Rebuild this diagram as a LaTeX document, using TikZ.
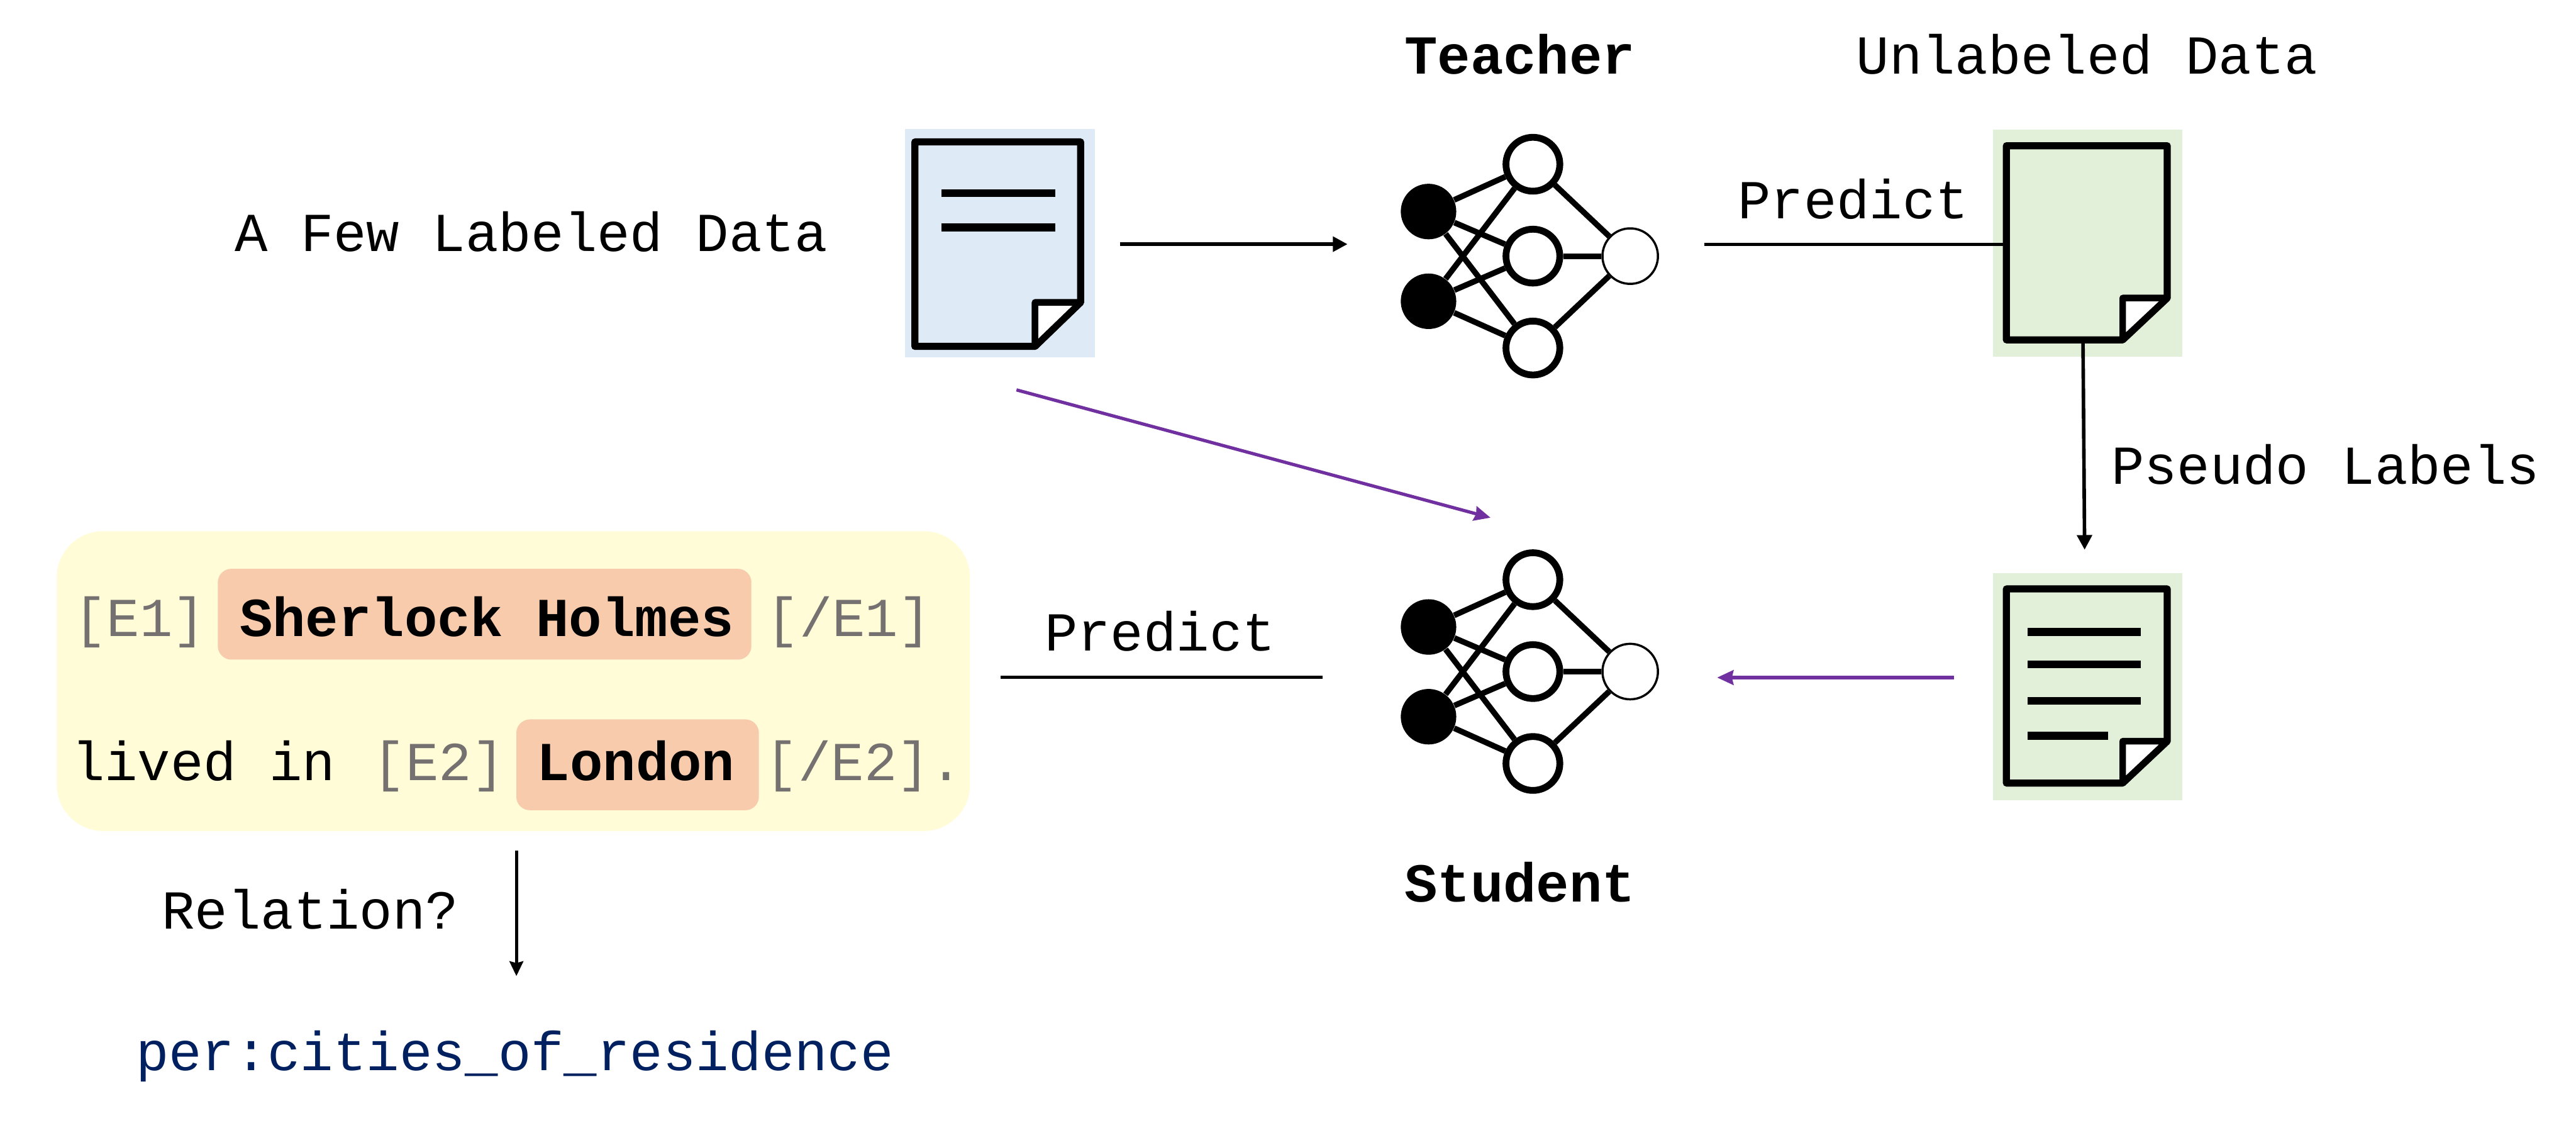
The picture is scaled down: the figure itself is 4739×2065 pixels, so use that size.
\documentclass[tikz,border=0pt]{standalone}
\usepackage{fontspec}
\setmainfont{Liberation Mono}
\usetikzlibrary{arrows.meta}
\definecolor{bluebg}{HTML}{DEEAF6}
\definecolor{greenbg}{HTML}{E2EFD9}
\definecolor{yellowbg}{HTML}{FFFCD7}
\definecolor{orangebg}{HTML}{F7CBAC}
\definecolor{tagcol}{HTML}{767171}
\definecolor{navy}{HTML}{002060}
\definecolor{purp}{HTML}{7030A0}
\tikzset{
  x=0.01cm,y=-0.01cm,
  txt/.style={anchor=base west,inner sep=0pt,outer sep=0pt,font=\fontsize{28.72}{34}\selectfont},
  ctxt/.style={anchor=base,inner sep=0pt,outer sep=0pt,font=\fontsize{28.72}{34}\selectfont\bfseries},
  bgbox/.style={draw=none,inner sep=0pt,outer sep=0pt},
  sheet/.style={draw=black,line width=0.13cm,line join=round},
  fold/.style={draw=black,fill=white,line width=0.12cm,line join=round},
  bar/.style={draw=black,line width=0.145cm},
  inblack/.style={circle,fill=black,draw=none,minimum size=1.02cm,inner sep=0pt},
  hid/.style={circle,draw=black,fill=white,line width=0.125cm,minimum size=0.99cm,inner sep=0pt},
  outp/.style={circle,draw=black,fill=white,line width=0.04cm,minimum size=1.02cm,inner sep=0pt},
  edge/.style={draw=black,line width=0.105cm},
  arr/.style={draw=black,line width=0.065cm,-{Triangle[length=0.27cm,width=0.27cm]}},
  parr/.style={draw=purp,line width=0.06cm,-{Stealth[length=0.3cm,width=0.27cm,inset=0.03cm]}},
  plain/.style={draw=black,line width=0.06cm},
  entity/.style={fill=orangebg,draw=none,rounded corners=0.25cm},
}
\newcommand{\docsheet}[6]{% x1 y1 x2 y2 foldx foldy
  \path[sheet] (#1,#2) -- (#3,#2) -- (#3,#6) -- (#5,#4) -- (#1,#4) -- cycle;
  \path[fold] (#5,#4) -- (#5,#6) -- (#3,#6) -- cycle;
}
\newcommand{\netw}[2]{% prefix, y of centre
  \node[inblack] (#1a) at (2628,#2-82) {};
  \node[inblack] (#1b) at (2628,#2+83) {};
  \node[hid] (#1c) at (2820,#2-169) {};
  \node[hid] (#1d) at (2820,#2) {};
  \node[hid] (#1e) at (2820,#2+169) {};
  \node[outp] (#1f) at (2999,#2) {};
  \foreach \s in {a,b}{\foreach \t in {c,d,e}{\path[edge] (#1\s) -- (#1\t);}}
  \foreach \s in {c,d,e}{\path[edge] (#1\s) -- (#1f);}
}
\begin{document}
\begin{tikzpicture}
\useasboundingbox (0,0) rectangle (4739,2065);
% labels
\node[ctxt] (teacher) at (2796,136) {Teacher};
\node[txt] (unl) at (3415,136) {Unlabeled Data};
\node[txt] (few) at (432,462) {A Few Labeled Data};
\node[txt] (pred1) at (3197,402) {Predict};
\node[txt] (pseudo) at (3884,890) {Pseudo Labels};
\node[txt] (pred2) at (1922,1197) {Predict};
\node[ctxt] (student) at (2796,1659) {Student};
% documents
\node[bgbox,fill=bluebg,minimum width=3.49cm,minimum height=4.19cm] (blue) at (1839.5,447) {};
\node[bgbox,fill=greenbg,minimum width=3.49cm,minimum height=4.17cm] (green1) at (3840.5,447.5) {};
\node[bgbox,fill=greenbg,minimum width=3.49cm,minimum height=4.17cm] (green2) at (3840.5,1262.5) {};
\docsheet{1683}{261}{1988}{637}{1904}{556}
\path[bar] (1732,355) -- (1941,355) (1732,418) -- (1941,418);
\docsheet{3691}{268}{3987}{625}{3905}{548}
\docsheet{3691}{1083}{3987}{1440}{3905}{1363}
\path[bar] (3730,1162) -- (3938,1162) (3730,1222) -- (3938,1222) (3730,1289) -- (3938,1289) (3730,1353) -- (3878,1353);
% networks
\netw{t}{471}
\netw{s}{1235}
% sentence box
\node[fill=yellowbg,draw=none,rounded corners=0.85cm,inner sep=0pt,minimum width=16.79cm,minimum height=5.51cm] (sent) at (944.5,1252.5) {};
\node[entity,inner sep=0pt,minimum width=9.81cm,minimum height=1.67cm] (e1) at (891.5,1129.5) {};
\node[entity,inner sep=0pt,minimum width=4.46cm,minimum height=1.67cm] (e2) at (1173,1406.5) {};
\node[txt,text=tagcol] (t1) at (136,1170) {[E1]};
\node[txt] (t2) at (441,1170) {\bfseries Sherlock Holmes};
\node[txt,text=tagcol] (t3) at (1410,1170) {[/E1]};
\node[txt] (t4) at (132,1435) {lived in};
\node[txt,text=tagcol] (t5) at (686,1435) {[E2]};
\node[txt] (t6) at (988,1435) {\bfseries London};
\node[txt,text=tagcol] (t7) at (1408,1435) {[/E2].};
\node[txt] (rel) at (298,1708) {Relation?};
\node[txt,text=navy] (perc) at (250,1969) {per:cities\_of\_residence};
% free connector ends
\coordinate (a1s) at (2060,449);
\coordinate (a1e) at (2479,449);
\coordinate (p1s) at (3135,449);
\coordinate (p1e) at (3687,449);
\coordinate (a2s) at (3832,629);
\coordinate (a2e) at (3835,1011);
\coordinate (p2s) at (1841,1245);
\coordinate (p2e) at (2433,1245);
\coordinate (a3s) at (3595,1246);
\coordinate (a3e) at (3159,1246);
\coordinate (a4s) at (1870,717);
\coordinate (a4e) at (2742,952);
\coordinate (a5s) at (950,1564);
\coordinate (a5e) at (950,1795);
% connectors
\draw[arr] (a1s) -- (a1e);
\draw[plain] (p1s) -- (p1e);
\draw[arr] (a2s) -- (a2e);
\draw[plain] (p2s) -- (p2e);
\draw[parr] (a3s) -- (a3e);
\draw[parr] (a4s) -- (a4e);
\draw[draw=black,line width=0.06cm,-{Stealth[length=0.27cm,width=0.25cm,inset=0.03cm]}] (a5s) -- (a5e);
\end{tikzpicture}
\end{document}
